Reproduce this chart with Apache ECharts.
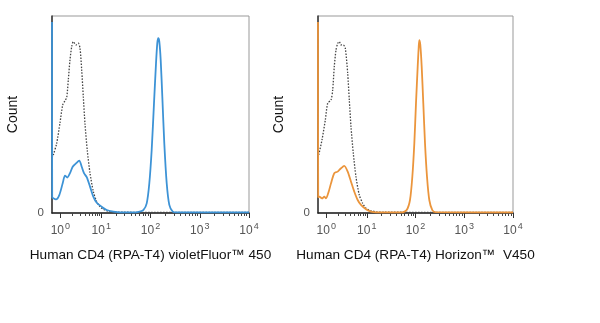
<!DOCTYPE html>
<html>
<head>
<meta charset="utf-8">
<script src="https://cdn.jsdelivr.net/npm/echarts@6/dist/echarts.min.js"></script>
<style>html,body{margin:0;padding:0;background:#fff;}#c{width:600px;height:323px;}</style>
</head>
<body>
<div id="c"></div>
<script>
// x values are in display-decade units of the cytometry axis (0 = left edge, 4 = 10^4)
const majorTicks = [0.17, 1, 2, 3, 4];
const tickExponents = ['0', '1', '2', '3', '4'];
const minorMultipliers = [2, 3, 4, 5, 6, 7, 8, 9];

const leftTitle = 'Human CD4 (RPA-T4) violetFluor\u2122 450';
const rightTitle = 'Human CD4 (RPA-T4) Horizon\u2122  V450';

const violetFluor450 = [[0,97],[0.004,8],[0.026,7.5],[0.081,6.9],[0.148,9.1],[0.217,15.1],[0.264,19.0],[0.311,18.0],[0.365,20.2],[0.420,23.5],[0.487,25.2],[0.554,26.6],[0.603,23.5],[0.650,20.2],[0.705,18.2],[0.772,13.4],[0.839,8.3],[0.908,5.2],[1.009,3.2],[1.111,1.5],[1.245,0.7],[1.381,0.3],[1.65,0.3],[1.76,0.6],[1.854,1.5],[1.923,4.9],[1.976,15.1],[2.024,32.0],[2.071,55.7],[2.112,76.0],[2.138,86.2],[2.158,88.7],[2.179,87.0],[2.207,77.7],[2.240,59.0],[2.280,35.4],[2.329,15.1],[2.382,4.1],[2.451,0.7],[2.532,0.3],[4,0.3]];
const isotypeLeft = [[0,28],[0.026,29.4],[0.095,35.4],[0.162,45.7],[0.217,54.8],[0.264,57.0],[0.299,58.7],[0.331,67.5],[0.365,77.7],[0.400,84.4],[0.432,87.0],[0.487,85.3],[0.534,86.2],[0.569,83.6],[0.603,72.6],[0.636,58.9],[0.670,45.2],[0.717,31.6],[0.772,20.2],[0.839,10.9],[0.908,5.7],[0.975,3.2],[1.05,1.8],[1.15,0.8],[1.3,0.4],[4,0.3]];
const horizonV450 = [[0,97],[0.004,8],[0.027,8.3],[0.082,7.4],[0.129,8.3],[0.164,7.4],[0.219,10.8],[0.267,15.1],[0.334,20.2],[0.404,21.0],[0.472,22.7],[0.539,23.9],[0.609,21.0],[0.677,15.9],[0.745,10.8],[0.814,6.6],[0.882,4.1],[0.985,1.9],[1.087,0.7],[1.2,0.3],[1.72,0.3],[1.819,1.5],[1.887,6.6],[1.935,18.4],[1.976,35.4],[2.010,55.7],[2.045,74.3],[2.066,84.4],[2.078,87.8],[2.099,85.3],[2.127,74.3],[2.160,55.7],[2.195,35.4],[2.236,18.4],[2.283,6.6],[2.345,1.5],[2.414,0.4],[4,0.3]];
const isotypeRight = [[0,28],[0.014,29.4],[0.082,37.1],[0.150,47.2],[0.199,55.7],[0.267,57.4],[0.301,62.4],[0.334,74.3],[0.369,82.7],[0.404,86.1],[0.437,87.0],[0.472,85.3],[0.519,85.3],[0.560,83.6],[0.609,70.9],[0.642,57.4],[0.677,43.8],[0.724,30.3],[0.779,18.4],[0.847,9.1],[0.917,4.9],[0.985,2.4],[1.08,1.2],[1.2,0.6],[1.35,0.4],[4,0.3]];

// minor tick positions: first decade is compressed (biexponential display)
const minorTicks = [];
for (let d = 0; d < 4; d++) {
  const start = majorTicks[d], span = majorTicks[d + 1] - majorTicks[d];
  minorMultipliers.forEach(k => minorTicks.push(start + span * Math.log10(k)));
}

const FONT = '"Liberation Sans", Arial, sans-serif';

function xAxesFor(gridIndex, title) {
  return [{
    gridIndex, type: 'value', min: 0, max: 4, position: 'bottom',
    name: title, nameLocation: 'middle', nameGap: 35,
    nameTextStyle: { fontFamily: FONT, fontSize: 13.6, color: '#111' },
    axisLine: { show: true, onZero: false, lineStyle: { color: '#222', width: 1.5 } },
    axisTick: { show: true, customValues: majorTicks, length: 5, lineStyle: { color: '#333' } },
    axisLabel: {
      show: true, customValues: majorTicks, margin: 8,
      formatter: v => {
        let idx = 0, best = 1e9;
        majorTicks.forEach((t, i) => { if (Math.abs(t - v) < best) { best = Math.abs(t - v); idx = i; } });
        return '{b|10}{s|' + tickExponents[idx] + '}';
      },
      rich: {
        b: { fontFamily: FONT, fontSize: 12, color: '#555', lineHeight: 15, padding: [5, 0, 0, 0] },
        s: { fontFamily: FONT, fontSize: 9, color: '#555', lineHeight: 15, padding: [0, 0, 4, 1] }
      }
    },
    splitLine: { show: false }
  }, {
    gridIndex, type: 'value', min: 0, max: 4, position: 'bottom',
    axisLine: { show: false },
    axisTick: { show: true, customValues: minorTicks, length: 3, lineStyle: { color: '#444' } },
    axisLabel: { show: false },
    splitLine: { show: false }
  }];
}

function yAxisFor(gridIndex) {
  return {
    gridIndex, type: 'value', min: 0, max: 100,
    name: 'Count', nameLocation: 'middle', nameGap: 32, nameRotate: 90,
    nameTextStyle: { fontFamily: FONT, fontSize: 14, color: '#111' },
    axisLine: { show: true, lineStyle: { color: '#333', width: 1.5 } },
    axisTick: { show: false },
    axisLabel: { customValues: [0], formatter: () => '0', margin: 8, fontFamily: FONT, fontSize: 11.5, color: '#555' },
    splitLine: { show: false }
  };
}

function line(xAxisIndex, yAxisIndex, data, color, dotted) {
  return {
    type: 'line', xAxisIndex, yAxisIndex, data, symbol: 'none', smooth: 0.25, silent: true,
    lineStyle: dotted ? { color: '#444', width: 1.3, type: [1.5, 1.5] } : { color, width: 1.8 },
    z: dotted ? 3 : 4
  };
}

const chart = echarts.init(document.getElementById('c'), null, { renderer: 'canvas' });
chart.setOption({
  animation: false,
  backgroundColor: '#fff',
  grid: [
    { left: 52, top: 16, width: 197, height: 197, show: true, borderColor: '#999', borderWidth: 1, backgroundColor: 'transparent' },
    { left: 318, top: 16, width: 195, height: 197, show: true, borderColor: '#999', borderWidth: 1, backgroundColor: 'transparent' }
  ],
  xAxis: [...xAxesFor(0, leftTitle), ...xAxesFor(1, rightTitle)],
  yAxis: [yAxisFor(0), yAxisFor(1)],
  series: [
    line(0, 0, isotypeLeft, '#555', true),
    line(0, 0, violetFluor450, '#3d93d6', false),
    line(2, 1, isotypeRight, '#555', true),
    line(2, 1, horizonV450, '#eb953c', false)
  ]
});
</script>
</body>
</html>
